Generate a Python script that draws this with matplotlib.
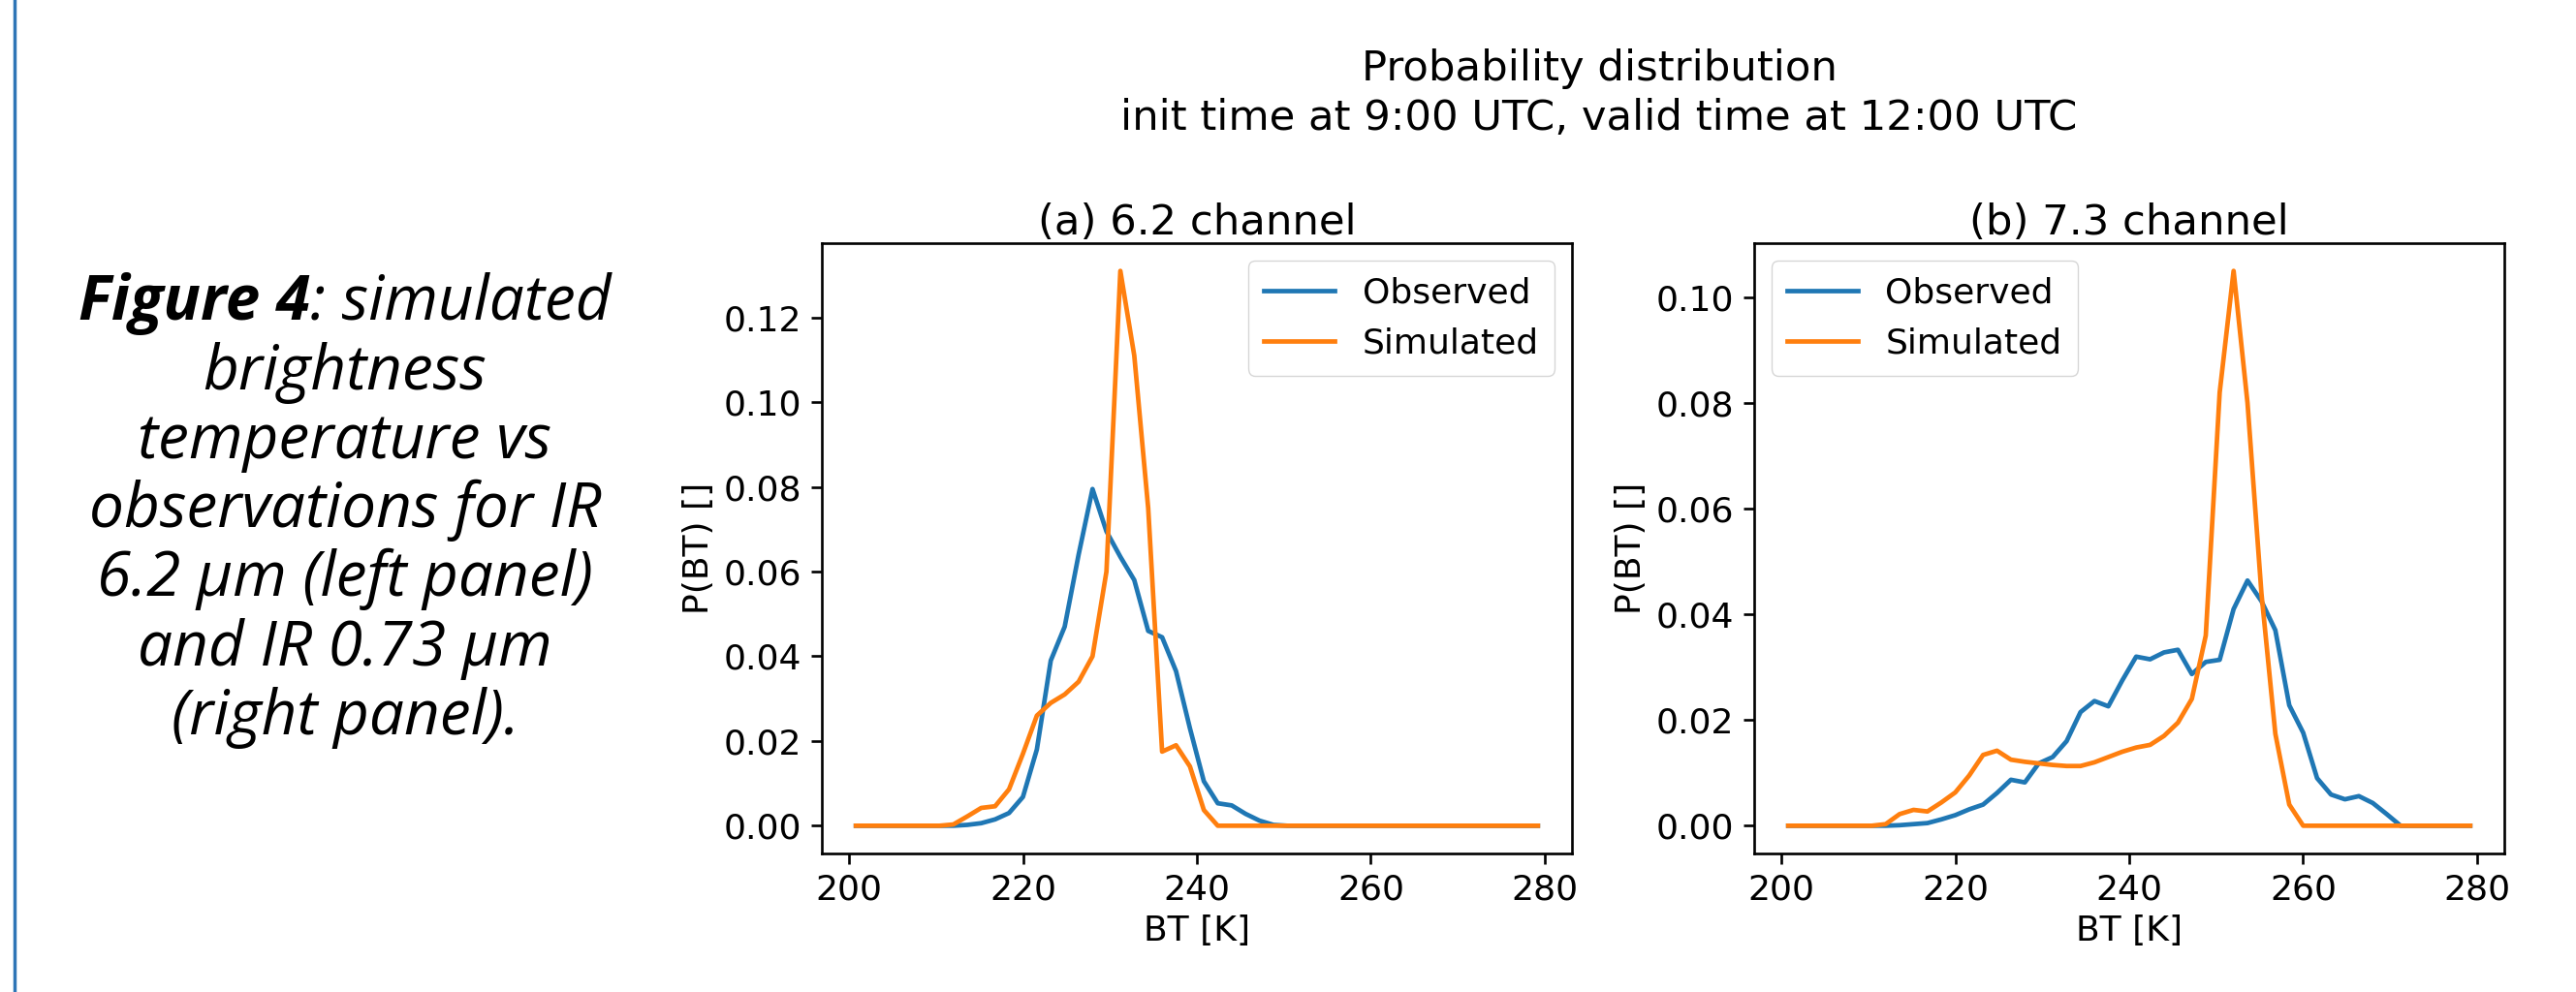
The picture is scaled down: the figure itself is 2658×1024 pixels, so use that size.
import numpy as np
import matplotlib.pyplot as plt
from matplotlib.lines import Line2D

# bin centres of the brightness temperature histogram (50 bins, 200-280 K)
bt_edges = np.linspace(200, 280, 51)
bt = 0.5 * (bt_edges[:-1] + bt_edges[1:])

# (a) 6.2 channel
obs_62 = [0, 0, 0, 0, 0, 0, 0, 0, 0.0002, 0.0006,
          0.0015, 0.003, 0.0068, 0.018, 0.039, 0.047, 0.064, 0.0795, 0.0695, 0.0635,
          0.058, 0.046, 0.0445, 0.0365, 0.023, 0.0105, 0.0053, 0.0048, 0.0028, 0.0012,
          0.0002, 0, 0, 0, 0, 0, 0, 0, 0, 0,
          0, 0, 0, 0, 0, 0, 0, 0, 0, 0]
sim_62 = [0, 0, 0, 0, 0, 0, 0, 0.0003, 0.0022, 0.0042,
          0.0046, 0.0086, 0.017, 0.026, 0.029, 0.031, 0.034, 0.040, 0.060, 0.131,
          0.111, 0.075, 0.0175, 0.019, 0.014, 0.0037, 0, 0, 0, 0,
          0, 0, 0, 0, 0, 0, 0, 0, 0, 0,
          0, 0, 0, 0, 0, 0, 0, 0, 0, 0]

# (b) 7.3 channel
obs_73 = [0, 0, 0, 0, 0, 0, 0, 0, 0.0001, 0.0003,
          0.0005, 0.0012, 0.002, 0.0031, 0.004, 0.0062, 0.0087, 0.0082, 0.0118, 0.013,
          0.016, 0.0215, 0.0236, 0.0226, 0.0275, 0.032, 0.0315, 0.0328, 0.0333, 0.0287,
          0.031, 0.0314, 0.041, 0.0464, 0.0425, 0.037, 0.0228, 0.0176, 0.009, 0.0059,
          0.005, 0.0056, 0.0043, 0.0022, 0, 0, 0, 0, 0, 0]
sim_73 = [0, 0, 0, 0, 0, 0, 0, 0.0003, 0.0022, 0.003,
          0.0027, 0.0044, 0.0063, 0.0095, 0.0134, 0.0142, 0.0125, 0.0121, 0.0118, 0.0115,
          0.0113, 0.0113, 0.012, 0.013, 0.014, 0.0148, 0.0153, 0.017, 0.0195, 0.024,
          0.036, 0.082, 0.105, 0.080, 0.044, 0.0174, 0.004, 0, 0, 0,
          0, 0, 0, 0, 0, 0, 0, 0, 0, 0]

panels = [('(a) 6.2 channel', obs_62, sim_62, 'upper right'),
          ('(b) 7.3 channel', obs_73, sim_73, 'upper left')]

suptitle_lines = ['Probability distribution',
                  'init time at 9:00 UTC, valid time at 12:00 UTC']

caption = ['brightness', 'temperature vs', 'observations for IR',
           '6.2 \u03bcm (left panel)', 'and IR 0.73 \u03bcm', '(right panel).']

W, H = 2658, 1024
fig = plt.figure(figsize=(W / 100, H / 100), dpi=100)

fs = 26
lefts = [848, 1810]
for (title, obs, sim, loc), left in zip(panels, lefts):
    ax = fig.add_axes([left / W, (H - 881) / H, 774 / W, 630 / H])
    ax.plot(bt, obs, color='#1f77b4', lw=3.4, label='Observed')
    ax.plot(bt, sim, color='#ff7f0e', lw=3.4, label='Simulated')
    ax.set_title(title, fontsize=fs * 1.2, pad=5)
    ax.set_xlabel('BT [K]', fontsize=fs, labelpad=6)
    ax.set_ylabel('P(BT) []', fontsize=fs, labelpad=6)
    ax.set_xticks([200, 220, 240, 260, 280])
    ax.tick_params(labelsize=fs, length=8, width=1.9, pad=7)
    for s in ax.spines.values():
        s.set_linewidth(1.9)
    ax.legend(loc=loc, fontsize=fs, borderpad=0.45, handlelength=2.0)

for txt, yb in zip(suptitle_lines, [83, 134]):
    fig.text(1650 / W, 1 - yb / H, txt, fontsize=fs * 1.2,
             ha='center', va='baseline')

# caption on the left
cx = 356
line_ys = [313, 385, 456, 527, 598, 670, 741]
cap_font = ['Open Sans', 'DejaVu Sans']
cap_fs = 46
fig.canvas.draw()
r = fig.canvas.get_renderer()
t1 = fig.text(0, 0, 'Figure 4', fontsize=cap_fs, family=cap_font,
              style='italic', weight='bold', va='center')
t2 = fig.text(0, 0, ': simulated', fontsize=cap_fs, family=cap_font,
              style='italic', va='center')
w1 = t1.get_window_extent(r).width
w2 = t2.get_window_extent(r).width
x0 = cx - (w1 + w2) / 2
y0 = 1 - line_ys[0] / H
t1.set_position((x0 / W, y0))
t2.set_position(((x0 + w1) / W, y0))
for txt, y in zip(caption, line_ys[1:]):
    fig.text(cx / W, 1 - y / H, txt, fontsize=cap_fs, family=cap_font,
             style='italic', ha='center', va='center')

# blue border of the text box
fig.add_artist(Line2D([15 / W, 15 / W], [0, 1], color='#2e75b6', lw=2.5))

fig.savefig('out.png', dpi=100)
